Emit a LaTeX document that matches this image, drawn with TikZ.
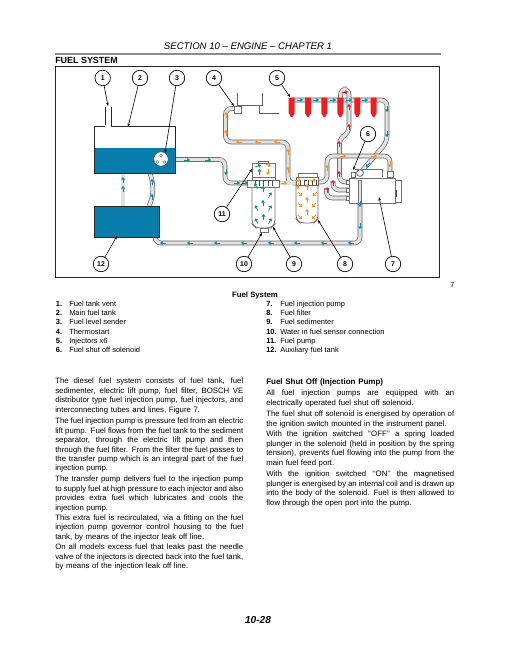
\documentclass[tikz,border=0pt]{standalone}
\usepackage{fontspec}
\setmainfont{Liberation Sans}
\usetikzlibrary{arrows.meta}
\definecolor{tankblue}{RGB}{8,124,170}
\definecolor{fgreen}{RGB}{10,150,105}
\definecolor{fblue}{RGB}{20,135,185}
\definecolor{forange}{RGB}{245,145,45}
\definecolor{fred}{RGB}{235,30,35}
\definecolor{tubeedge}{RGB}{95,95,95}
\definecolor{tubefill}{RGB}{225,225,225}
\definecolor{compedge}{RGB}{110,110,110}
\tikzset{
  tube/.style={draw=tubeedge,line width=.5pt,double=tubefill,double distance=2.5pt,rounded corners=4.5pt},
  comp/.style={draw=compedge,line width=.6pt,fill=white},
  plain/.style={draw=tubeedge,line width=.5pt},
  tank/.style={draw=black!85,line width=.7pt},
  callout/.style={circle,draw=black,line width=.5pt,fill=white,minimum size=11.6pt,inner sep=0pt,font=\fontsize{5.2}{6}\selectfont\bfseries},
  leader/.style={draw=black,line width=.45pt,-{Stealth[length=2.6pt,width=2pt]}},
  flow/.style={line width=.6pt,-{Triangle[length=1.9pt,width=2.9pt]}},
  body/.style={anchor=north west,inner sep=0pt,text width=141pt,font=\fontsize{5.85}{7.05}\selectfont},
  item/.style={anchor=base west,inner sep=0pt,font=\fontsize{5.6}{6.5}\selectfont},
  num/.style={anchor=base west,inner sep=0pt,font=\fontsize{5.6}{6.5}\selectfont\bfseries}
}
\newcommand{\fa}[4]{\draw[flow,#4] (#1,#2) ++(#3+180:3) -- ++(#3:6);}
\newcommand{\jl}[1]{\noindent\hbox to 141pt{\spaceskip=.15em plus 1fil\relax #1}\par}
\newcommand{\el}[1]{\noindent\hbox{#1}\par}
\begin{document}
\begin{tikzpicture}[x=.75pt,y=-.75pt]
\useasboundingbox (0,0) rectangle (510,660);
\fill[white] (0,0) rectangle (510,660);
% header
\node[anchor=center,inner sep=0pt,font=\fontsize{7.2}{8}\selectfont\itshape] (hdr) at (248,46) {SECTION 10 – ENGINE – CHAPTER 1};
\draw[black!45,line width=1.5pt] (55,53.7) -- (441,53.7);
\node[anchor=west,inner sep=0pt,font=\fontsize{6.7}{8}\selectfont\bfseries] (ttl) at (55,60) {FUEL SYSTEM};
\draw[black!85,line width=.7pt] (55,66.7) rectangle (439.5,277);
% tubes
\draw[tube] (175,159.5) -- (225,159.5) -- (225,183) -- (250,183);
\draw[tube] (123,173) -- (123,206);
\draw[tube] (150,173) .. controls (154,185) and (154,195) .. (149,206);
\draw[tube] (155,237) -- (155,243) -- (360,243) -- (360,180);
\draw[tube] (234,108.5) -- (225.5,108.5) -- (225.5,142) -- (288,142) -- (288,183) -- (296,183);
\draw[tube] (278,183) -- (297,183);
\draw[tube] (292,100) -- (387,100) -- (387,142) -- (360,173);
\draw[tube] (340.5,100) -- (340.5,89) -- (349,89) -- (349,133) -- (339.5,138) -- (339.5,182) -- (350,182);
\draw[tube] (333,181) -- (333,190) -- (350,190);
\draw[tube] (326.5,188) -- (326.5,198) -- (350,198);
\draw[tube] (317,182) -- (327,182) -- (327,156) -- (390,156) -- (390,172);
% thermostart outline
\draw[plain] (237.7,93) -- (237.7,105) -- (262,105) -- (262,93);
\draw[plain] (259,105) -- (259,113) -- (279,113);
\draw[comp] (234,106) rectangle (241,113);
% tanks
\draw[tank,fill=white] (94,126) rectangle (175,173);
\draw[tank,fill=white] (105,126) -- (105,107) (111,107) -- (111,126);
\fill[white] (105.4,125) rectangle (110.6,127);
\fill[tankblue] (94.4,148) rectangle (174.6,172.6);
\draw[tank] (94,148) -- (94,173) -- (175,173) -- (175,148);
\draw[tank,fill=tankblue] (94,206) rectangle (159,237);
\draw[black!70,line width=.4pt,fill=white] (161,159) circle (7.2);
\foreach \a/\b in {161/155.5,157.5/162,164.5/162}{\draw[black!70,line width=.35pt] (\a,\b) circle (1.4);}
% injectors
\foreach \xx in {291.7,308,324.3,340.3,357.3,373.7}{
  \fill[fred] (\xx-3,97.7) -- (\xx+3,97.7) -- (\xx+3,113) -- (\xx+.8,117) -- (\xx-.8,117) -- (\xx-3,113) -- cycle;
}
% sedimenter + lift pump
\draw[comp,rounded corners=3pt] (252,186) -- (252,224) -- (256,228) -- (271,228) -- (275,224) -- (275,186);
\draw[comp] (260,228) rectangle (268,232);
\draw[comp] (252,163) rectangle (275,177);
\draw[comp] (258,161.5) rectangle (268,163);
\draw[comp] (247,180) rectangle (279,187);
\draw[comp] (252,177) rectangle (275,180);
% filter
\draw[comp,rounded corners=3pt] (296,183) -- (296,219) -- (300,223) -- (314,223) -- (318,219) -- (318,183);
\draw[comp] (298,173) rectangle (317,177);
\draw[comp] (296,177) rectangle (318,185);
% fins
\foreach \xx in {255,259,263,268,272,300,304,308,312,316}{
  \draw[black!70,line width=.4pt] (\xx,179.5) -- (\xx,185.5);
}
\foreach \xx in {255,263,268,304,312}{
  \draw[black!70,line width=.4pt] (\xx,180.5) -- (\xx+3,180.5);
}
% pump
\draw[comp] (351,172) rectangle (355,177);
\draw[comp] (355,169) -- (382,169) -- (382,177);
\draw[comp] (387,171) rectangle (393,177);
\draw[comp] (349,178) rectangle (395.5,203);
\draw[comp] (395.5,180) rectangle (401,202);
\draw[black!75,line width=.7pt] (396,190) -- (396,197);
\draw[comp,fill=tubefill] (358.4,180) rectangle (361.6,203);
\draw[comp] (360,173) circle (3.4);
\foreach \yy/\zz in {182/186,190/194,198/202}{\draw[comp] (346,\yy-2) rectangle (349,\yy+2);}
% flow arrows
\foreach \a/\b/\c in {187/160/0,208/160/0,226/172/90,237/183/0,245/183/0,
  258/166/-20,259.5/172/-90,263/189/-90,256/186/-120,270/195/-60,263/203/-90,256.5/208/-120,270/208/-60,263.5/217/-90,256.5/221/-120,270/221/-60}{
  \fa{\a}{\b}{\c}{fgreen}}
\foreach \a/\b/\c in {123/180/-90,123/189/-90,152/182/-90,152/197/-90,
  163/243/180,190/243/180,217/243/180,244/243/180,271/243/180,297/243/180,324/243/180,351/243/180,
  360/204/90,360/226/90,300/100/0,316/100/0,333/100/0,349/100/0,365/100/0,387/109/90,387/134/90,368/165/130}{
  \fa{\a}{\b}{\c}{fblue}}
\foreach \a/\b/\c in {345/92/0,349/107/-90,349/127/-90,339/144/-90,339/174/-90,333/183/-90,327/190/-90}{
  \fa{\a}{\b}{\c}{fred}}
\foreach \a/\b/\c in {226/115/-90,226/133/-90,239/142/180,258/142/180,277/142/180,288/152/-90,288/170/-90,284/183/0,
  327/168/-90,343/156/0,374/156/0,390/164/90,
  268/165/20,268/172/90,298/180/0,313/180/0,298/186/90,
  307/187/-90,300/194/45,315/194/135,307/200/-90,300/205/45,314/205/135,307/212/-90,300/217/45,314/217/135}{
  \fa{\a}{\b}{\c}{forange}}
% callouts
\node[callout] (n1) at (102.7,78) {1};
\node[callout] (n2) at (140,78) {2};
\node[callout] (n3) at (177,78) {3};
\node[callout] (n4) at (214,78) {4};
\node[callout] (n5) at (277,78) {5};
\node[callout] (n6) at (368,134) {6};
\node[callout] (n11) at (222,214) {11};
\node[callout] (n12) at (101,264) {12};
\node[callout] (n10) at (244,264) {10};
\node[callout] (n9) at (294,264) {9};
\node[callout] (n8) at (345,264) {8};
\node[callout] (n7) at (393,264) {7};
\coordinate (c1) at (108,106);
\coordinate (c2) at (128,127);
\coordinate (c3) at (165,153);
\coordinate (c4) at (234,106);
\coordinate (c5) at (290,97);
\coordinate (c6) at (353,170);
\coordinate (c11) at (252,169);
\coordinate (c12) at (117,236);
\coordinate (c10) at (262,233);
\coordinate (c9) at (273,227);
\coordinate (c8) at (318,220);
\coordinate (c7) at (379,197);
\foreach \i in {1,...,12}{\draw[leader] (n\i) -- (c\i);}
% caption
\node[anchor=west,inner sep=0pt,font=\fontsize{5.6}{6.5}\selectfont] (figno) at (450,284.5) {7};
\node[inner sep=0pt,font=\fontsize{5.8}{6.5}\selectfont\bfseries] (cap) at (255,295) {Fuel System};
\foreach \k/\t/\yy in {1/Fuel tank vent/306,2/Main fuel tank/315.3,3/Fuel level sender/324.6,4/Thermostart/334,5/Injectors x6/343.4,6/Fuel shut off solenoid/352.8}{
  \node[num] (a\k) at (55.7,\yy) {\k.};
  \node[item] (b\k) at (69,\yy) {\t};
}
\foreach \k/\t/\yy in {7/Fuel injection pump/306,8/Fuel filter/315.3,9/Fuel sedimenter/324.6,10/Water in fuel sensor connection/334,11/Fuel pump/343.4,12/Auxiliary fuel tank/352.8}{
  \node[num] (a\k) at (266,\yy) {\k.};
  \node[item] (b\k) at (280,\yy) {\t};
}
% left column
\node[body] (p1) at (55,378) {\jl{The diesel fuel system consists of fuel tank, fuel}\jl{sedimenter, electric lift pump, fuel filter, BOSCH VE}\jl{distributor type fuel injection pump, fuel injectors, and}\el{interconnecting tubes and lines, Figure  7.}};
\node[body] (p2) at (55,418) {\jl{The fuel injection pump is pressure fed from an electric}\jl{lift pump. Fuel flows from the fuel tank to the sediment}\jl{separator, through the electric lift pump and then}\jl{through the fuel filter. From the filter the fuel passes to}\jl{the transfer pump which is an integral part of the fuel}\el{injection pump.}};
\node[body] (p3) at (55,476) {\jl{The transfer pump delivers fuel to the injection pump}\jl{to supply fuel at high pressure to each injector and also}\jl{provides extra fuel which lubricates and cools the}\el{injection pump.}};
\node[body] (p4) at (55,514.5) {\jl{This extra fuel is recirculated, via a fitting on the fuel}\jl{injection pump governor control housing to the fuel}\el{tank, by means of the injector leak off line.}};
\node[body] (p5) at (55,544) {\jl{On all models excess fuel that leaks past the needle}\jl{valve of the injectors is directed back into the fuel tank,}\el{by means of the injection leak off line.}};
% right column
\node[body,font=\fontsize{6}{7.05}\selectfont\bfseries] (h2) at (266,378.5) {Fuel Shut Off (Injection Pump)};
\node[body] (q1) at (266,390) {\jl{All fuel injection pumps are equipped with an}\el{electrically operated fuel shut off solenoid.}};
\node[body] (q2) at (266,411) {\jl{The fuel shut off solenoid is energised by operation of}\el{the ignition switch mounted in the instrument panel.}};
\node[body] (q3) at (266,431) {\jl{With the ignition switched ‘‘OFF’’ a spring loaded}\jl{plunger in the solenoid (held in position by the spring}\jl{tension), prevents fuel flowing into the pump from the}\el{main fuel feed port.}};
\node[body] (q4) at (266,471) {\jl{With the ignition switched ‘‘ON’’ the magnetised}\jl{plunger is energised by an internal coil and is drawn up}\jl{into the body of the solenoid. Fuel is then allowed to}\el{flow through the open port into the pump.}};
\node[inner sep=0pt,font=\fontsize{7.6}{9}\selectfont\bfseries\itshape] (pg) at (258,620) {10-28};
\end{tikzpicture}
\end{document}
